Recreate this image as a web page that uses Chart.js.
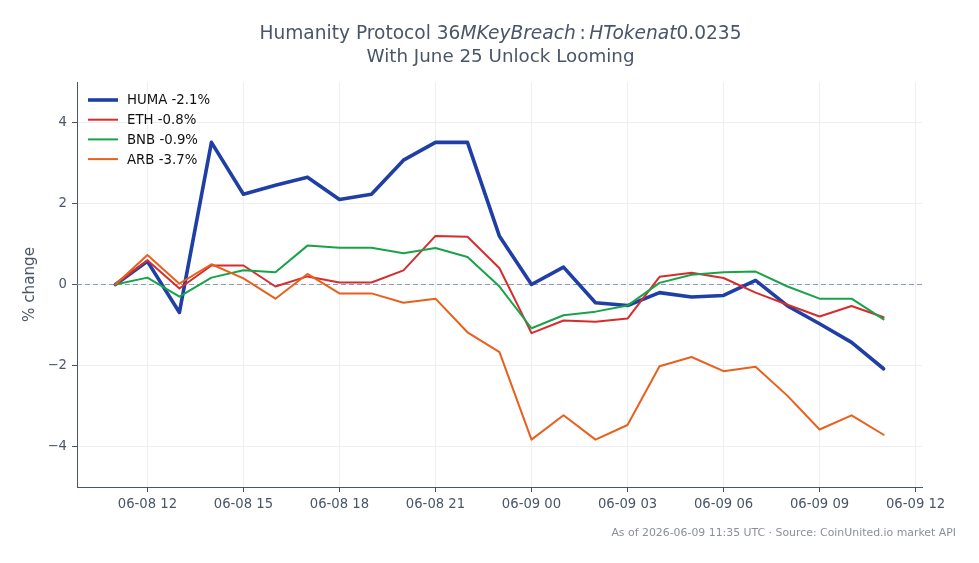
<!DOCTYPE html>
<html>
<head>
<meta charset="utf-8">
<script src="https://cdn.jsdelivr.net/npm/chart.js@4.4.1/dist/chart.umd.min.js"></script>
<style>
    html, body { margin: 0; padding: 0; background: #fff; }
    #wrap { width: 979px; height: 563px; position: relative; }
</style>
</head>
<body>
<div id="wrap"><canvas id="chart" width="979" height="563"></canvas></div>
<script>
// hours since 06-08 00:00 UTC, one point per hour
const hours = [11, 12, 13, 14, 15, 16, 17, 18, 19, 20, 21, 22, 23, 24, 25, 26, 27, 28, 29, 30, 31, 32, 33, 34, 35];

const humaChange = [0, 0.57, -0.69, 3.51, 2.23, 2.45, 2.65, 2.1, 2.23, 3.07, 3.51, 3.51, 1.19, 0, 0.43, -0.45, -0.52, -0.2, -0.31, -0.27, 0.1, -0.53, -0.97, -1.43, -2.08];
const ethChange  = [0, 0.6, -0.1, 0.47, 0.47, -0.05, 0.2, 0.05, 0.05, 0.35, 1.2, 1.18, 0.4, -1.2, -0.89, -0.92, -0.84, 0.19, 0.29, 0.16, -0.2, -0.5, -0.79, -0.53, -0.81];
const bnbChange  = [0, 0.17, -0.3, 0.17, 0.35, 0.3, 0.96, 0.91, 0.91, 0.77, 0.9, 0.68, -0.05, -1.08, -0.76, -0.67, -0.52, 0.04, 0.24, 0.3, 0.32, -0.05, -0.35, -0.35, -0.86];
const arbChange  = [0, 0.73, 0.02, 0.5, 0.15, -0.35, 0.26, -0.22, -0.22, -0.45, -0.35, -1.18, -1.67, -3.83, -3.23, -3.83, -3.47, -2.02, -1.79, -2.14, -2.03, -2.75, -3.58, -3.23, -3.71];

const seriesNames = ['HUMA -2.1%', 'ETH -0.8%', 'BNB -0.9%', 'ARB -3.7%'];
const seriesColors = ['#1f3fa6', '#d62c2c', '#18a34a', '#e8601c'];

const xTickHours = [12, 15, 18, 21, 24, 27, 30, 33, 36];
const xTickLabels = ['06-08 12', '06-08 15', '06-08 18', '06-08 21', '06-09 00', '06-09 03', '06-09 06', '06-09 09', '06-09 12'];
const yTicks = [-4, -2, 0, 2, 4];

const FONT = '"DejaVu Sans", sans-serif';
const SLATE = '#4a5568';

const toPoints = arr => arr.map((v, i) => ({ x: hours[i], y: v }));

// title with matplotlib mathtext look (italic parts)
const titlePlugin = {
    id: 'mplTitle',
    afterDraw(chart) {
        const ctx = chart.ctx;
        const cx = (chart.chartArea.left + chart.chartArea.right) / 2 + 1;
        const parts = [
            ['Humanity Protocol 36', false],
            ['MKeyBreach', true],
            ['\u2009:\u2009', false],
            ['HTokenat', true],
            ['0.0235', false]
        ];
        ctx.save();
        ctx.fillStyle = SLATE;
        ctx.textBaseline = 'middle';
        let total = 0;
        parts.forEach(([t, it]) => {
            ctx.font = (it ? 'italic ' : '') + '18.6px ' + FONT;
            total += ctx.measureText(t).width;
        });
        let x = cx - total / 2;
        ctx.textAlign = 'left';
        parts.forEach(([t, it]) => {
            ctx.font = (it ? 'italic ' : '') + '18.6px ' + FONT;
            ctx.fillText(t, x, 34);
            x += ctx.measureText(t).width;
        });
        ctx.font = '18.3px ' + FONT;
        ctx.textAlign = 'center';
        ctx.fillText('With June 25 Unlock Looming', cx, 57);

        // footer note
        ctx.font = '10.9px ' + FONT;
        ctx.fillStyle = '#8a8f98';
        ctx.textAlign = 'right';
        ctx.fillText('As of 2026-06-09 11:35 UTC \u00b7 Source: CoinUnited.io market API', 956, 533);
        ctx.restore();
    }
};

// zero reference line, drawn under the series
const zeroLine = {
    id: 'zeroLine',
    beforeDatasetsDraw(chart) {
        const { ctx, chartArea } = chart;
        const y = chart.scales.y.getPixelForValue(0);
        ctx.save();
        ctx.strokeStyle = '#8c9bb3';
        ctx.lineWidth = 1;
        ctx.setLineDash([5, 3]);
        ctx.beginPath();
        ctx.moveTo(chartArea.left, y);
        ctx.lineTo(chartArea.right, y);
        ctx.stroke();
        ctx.restore();
    }
};

// legend inside the plot, upper left
const innerLegend = {
    id: 'innerLegend',
    afterDatasetsDraw(chart) {
        const ctx = chart.ctx;
        const x0 = chart.chartArea.left + 11;
        const y0 = 100;
        ctx.save();
        ctx.font = '13.3px ' + FONT;
        ctx.textBaseline = 'middle';
        ctx.textAlign = 'left';
        chart.data.datasets.forEach((ds, i) => {
            const y = y0 + i * 19.7;
            ctx.strokeStyle = ds.borderColor;
            ctx.lineWidth = ds.borderWidth;
            ctx.beginPath();
            ctx.moveTo(x0, y);
            ctx.lineTo(x0 + 30, y);
            ctx.stroke();
            ctx.fillStyle = '#111';
            ctx.fillText(ds.label, x0 + 39, y + 1);
        });
        ctx.restore();
    }
};

const datasets = [humaChange, ethChange, bnbChange, arbChange].map((vals, i) => ({
    label: seriesNames[i],
    data: toPoints(vals),
    borderColor: seriesColors[i],
    backgroundColor: seriesColors[i],
    borderWidth: i === 0 ? 3.6 : 2,
    pointRadius: 0,
    tension: 0,
    borderJoinStyle: 'round',
    borderCapStyle: 'round',
    order: 4 - i
}));

new Chart(document.getElementById('chart'), {
    type: 'line',
    data: { datasets },
    options: {
        responsive: false,
        animation: false,
        devicePixelRatio: 1,
        layout: { padding: { top: 82, right: 57, left: 0, bottom: 0 } },
        plugins: {
            legend: { display: false },
            title: { display: false },
            tooltip: { enabled: false }
        },
        scales: {
            x: {
                type: 'linear',
                min: 9.8,
                max: 36.2,
                afterBuildTicks: s => { s.ticks = xTickHours.map(v => ({ value: v })); },
                afterFit: s => { s.height = 563 - 82 - 405; },
                ticks: {
                    color: SLATE,
                    font: { family: FONT, size: 13.2 },
                    padding: 5,
                    maxRotation: 0,
                    autoSkip: false,
                    callback: v => xTickLabels[xTickHours.indexOf(v)]
                },
                grid: { color: '#eceef2', tickColor: SLATE, tickLength: 5, lineWidth: 1 },
                border: { color: SLATE, width: 1 }
            },
            y: {
                min: -5,
                max: 5,
                afterBuildTicks: s => { s.ticks = yTicks.map(v => ({ value: v })); },
                afterFit: s => { s.width = 77; },
                ticks: {
                    color: SLATE,
                    font: { family: FONT, size: 13.2 },
                    padding: 5,
                    callback: v => String(v).replace('-', '\u2212')
                },
                grid: { color: '#eceef2', tickColor: SLATE, tickLength: 5, lineWidth: 1 },
                border: { color: SLATE, width: 1 },
                title: {
                    display: true,
                    text: '% change',
                    color: SLATE,
                    font: { family: FONT, size: 15.2 },
                    padding: { top: 21, bottom: 0 }
                }
            }
        }
    },
    plugins: [zeroLine, innerLegend, titlePlugin]
});
</script>
</body>
</html>
